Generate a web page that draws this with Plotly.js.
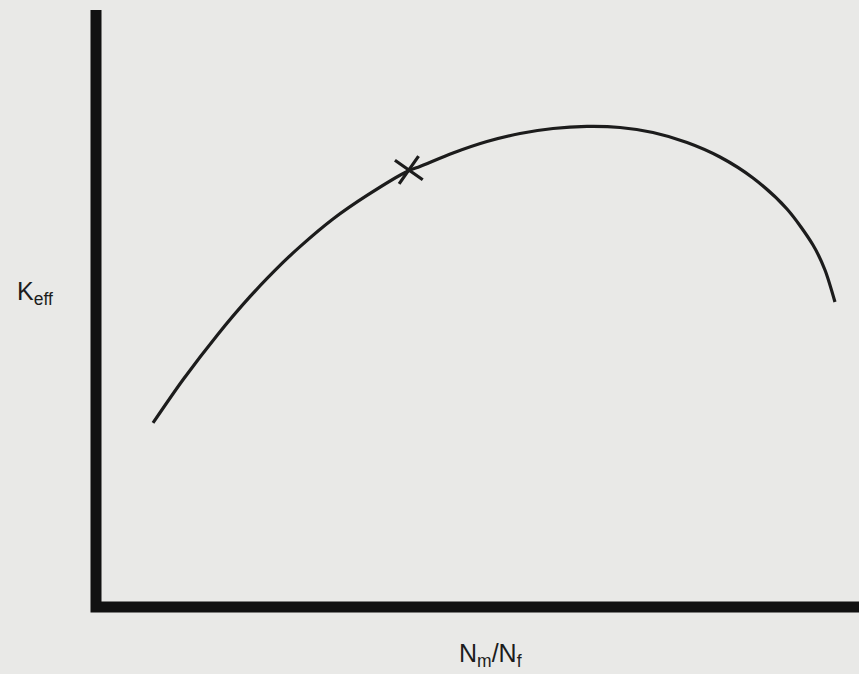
<!DOCTYPE html>
<html>
<head>
<meta charset="utf-8">
<script src="https://cdn.plot.ly/plotly-3.0.1.min.js"></script>
<style>
html,body{margin:0;padding:0;background:#e9e9e7;}
#chart{width:859px;height:674px;}
</style>
</head>
<body>
<div id="chart"></div>
<script>
// Curve (arbitrary units, axes have no ticks)
var ratioX = [0.747, 1.140, 1.586, 2.018, 2.451, 2.674, 3.106, 3.552, 4.089, 4.246, 4.679, 5.124, 5.557, 5.990, 6.435, 6.868, 7.300, 7.746, 8.178, 8.611, 9.056, 9.397, 9.554, 9.685];
var keffY  = [3.083, 3.806, 4.549, 5.198, 5.771, 6.037, 6.499, 6.894, 7.303, 7.379, 7.605, 7.797, 7.931, 8.015, 8.049, 8.032, 7.948, 7.781, 7.538, 7.186, 6.667, 6.064, 5.645, 5.109];
var markX = [4.10];
var markY = [7.32];
var xTitle = 'N<sub>m</sub>/N<sub>f</sub>';
var yTitle = 'K<sub>eff</sub>';

var data = [
  {x: ratioX, y: keffY, mode: 'lines', type: 'scatter',
   line: {color: '#1c1c1c', width: 3.2, shape: 'spline', smoothing: 0.8}, hoverinfo: 'none'},
  {x: markX, y: markY, mode: 'markers', type: 'scatter',
   marker: {symbol: 'x-thin', size: 24, angle: -10, line: {color: '#1c1c1c', width: 3.2}}, hoverinfo: 'none'}
];

var layout = {
  width: 859, height: 674,
  margin: {l: 96, r: 0, t: 10, b: 67},
  paper_bgcolor: '#e9e9e7', plot_bgcolor: '#e9e9e7',
  showlegend: false,
  font: {family: 'Liberation Sans, Arial, sans-serif', color: '#1c1c1c'},
  xaxis: {range: [0, 10], showgrid: false, zeroline: false, showticklabels: false, ticks: '', showline: false, fixedrange: true},
  yaxis: {range: [0, 10], showgrid: false, zeroline: false, showticklabels: false, ticks: '', showline: false, fixedrange: true},
  shapes: [
    {type: 'path', xref: 'paper', yref: 'paper', path: 'M 0 1 L 0 0 L 1 0',
     line: {color: '#111111', width: 11}}
  ],
  annotations: [
    {xref: 'paper', yref: 'paper', x: (490 - 96) / 763, y: (607 - 655) / 597, text: xTitle,
     showarrow: false, font: {size: 25, color: '#1c1c1c'}, xanchor: 'center', yanchor: 'middle'},
    {xref: 'paper', yref: 'paper', x: (35 - 96) / 763, y: (607 - 293) / 597, text: yTitle,
     showarrow: false, font: {size: 25, color: '#1c1c1c'}, xanchor: 'center', yanchor: 'middle'}
  ]
};

Plotly.newPlot('chart', data, layout, {displayModeBar: false, staticPlot: true});
</script>
</body>
</html>
